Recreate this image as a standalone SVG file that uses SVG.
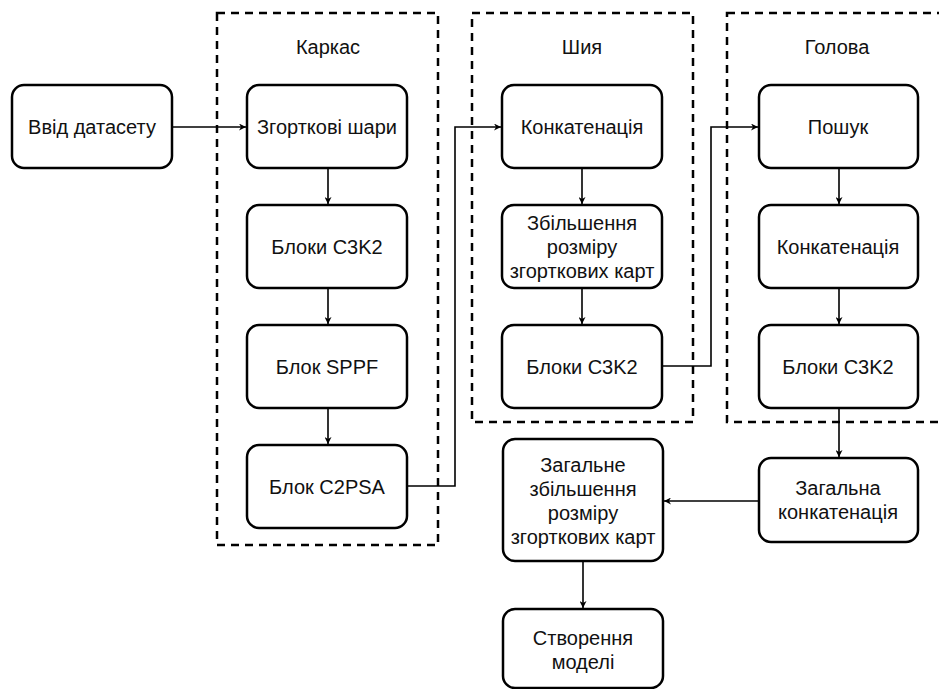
<svg xmlns="http://www.w3.org/2000/svg" width="939" height="689" viewBox="0 0 939 689">
<defs>
<marker id="arr" viewBox="0 0 10 10" refX="10" refY="5" markerWidth="7" markerHeight="7" markerUnits="userSpaceOnUse" orient="auto">
<path d="M0,0 L10,5 L0,10 L3,5 Z" fill="#000"/>
</marker>
</defs>
<style>
.node rect{fill:#fff;stroke:#000;stroke-width:2.5}
.grp{fill:none;stroke:#000;stroke-width:2.5;stroke-dasharray:8 6}
text{font-family:"Liberation Sans",Arial,sans-serif;font-size:20px;fill:#111;text-anchor:middle}
.conn path{fill:none;stroke:#000;stroke-width:1.6;marker-end:url(#arr)}
</style>
<rect width="939" height="689" fill="#fff"/>
<g id="groups">
<rect class="grp" x="217" y="13" width="221" height="532"/>
<text x="328" y="54">Каркас</text>
<rect class="grp" x="472" y="13" width="221" height="409"/>
<text x="582" y="54">Шия</text>
<rect class="grp" x="727" y="13" width="230" height="409"/>
<text x="837" y="54">Голова</text>
</g>
<g class="conn" id="connectors">
<path d="M172,127 H246"/>
<path d="M328,168 V204"/>
<path d="M328,288 V324"/>
<path d="M328,408 V444"/>
<path d="M407,486 H455 V127 H501"/>
<path d="M582,168 V204"/>
<path d="M582,288 V324"/>
<path d="M663,366 H711 V127 H758"/>
<path d="M839,168 V204"/>
<path d="M839,288 V324"/>
<path d="M839,408 V457"/>
<path d="M759,501 H664"/>
<path d="M583,561 V608"/>
</g>
<g class="node" id="n-input"><rect x="12" y="85" width="160" height="83" rx="12"/><text x="92" y="134">Ввід датасету</text></g>
<g class="node" id="n-conv"><rect x="247" y="85" width="160" height="83" rx="12"/><text x="327" y="134">Згорткові шари</text></g>
<g class="node" id="n-c3k2a"><rect x="247" y="205" width="160" height="83" rx="12"/><text x="327" y="254">Блоки C3K2</text></g>
<g class="node" id="n-sppf"><rect x="247" y="325" width="160" height="83" rx="12"/><text x="327" y="374">Блок SPPF</text></g>
<g class="node" id="n-c2psa"><rect x="247" y="445" width="160" height="83" rx="12"/><text x="327" y="494">Блок C2PSA</text></g>
<g class="node" id="n-concat1"><rect x="502" y="85" width="160" height="83" rx="12"/><text x="582" y="134">Конкатенація</text></g>
<g class="node" id="n-upsample"><rect x="502" y="205" width="160" height="83" rx="12"/><text x="582" y="230">Збільшення</text><text x="582" y="254">розміру</text><text x="582" y="278">згорткових карт</text></g>
<g class="node" id="n-c3k2b"><rect x="502" y="325" width="160" height="83" rx="12"/><text x="582" y="374">Блоки C3K2</text></g>
<g class="node" id="n-search"><rect x="759" y="85" width="159" height="83" rx="12"/><text x="838" y="134">Пошук</text></g>
<g class="node" id="n-concat2"><rect x="759" y="205" width="159" height="83" rx="12"/><text x="838" y="254">Конкатенація</text></g>
<g class="node" id="n-c3k2c"><rect x="759" y="325" width="159" height="83" rx="12"/><text x="838" y="374">Блоки C3K2</text></g>
<g class="node" id="n-gconcat"><rect x="759" y="458" width="159" height="84" rx="12"/><text x="838" y="495">Загальна</text><text x="838" y="519">конкатенація</text></g>
<g class="node" id="n-gupsample"><rect x="503" y="439" width="160" height="122" rx="12"/><text x="583" y="472">Загальне</text><text x="583" y="496">збільшення</text><text x="583" y="520">розміру</text><text x="583" y="544">згорткових карт</text></g>
<g class="node" id="n-model"><rect x="503" y="609" width="160" height="79" rx="12"/><text x="583" y="645">Створення</text><text x="583" y="669">моделі</text></g>
</svg>
